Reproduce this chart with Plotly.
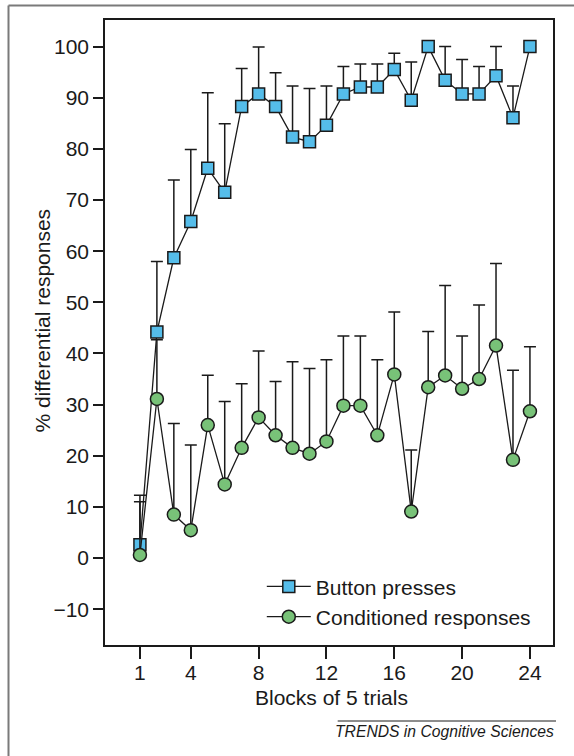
import plotly.graph_objects as go

# ---- data ----
blocks = list(range(1, 25))
button_presses = [2.6, 44.2, 58.7, 65.8, 76.2, 71.5, 88.3, 90.75, 88.3, 82.3, 81.4, 84.6,
                  90.75, 92.1, 92.1, 95.5, 89.5, 100, 93.4, 90.75, 90.75, 94.3, 86.1, 100]
button_upper = [12.3, 58.0, 73.9, 79.9, 91.0, 84.9, 95.7, 99.9, 94.9, 92.3, 91.8, 92.3,
                96.1, 96.6, 96.6, 98.7, 97.0, 100, 100, 97.5, 96.1, 100, 92.3, 100]
conditioned = [0.6, 31.1, 8.5, 5.45, 26.0, 14.4, 21.55, 27.5, 24.0, 21.55, 20.4, 22.8,
               29.8, 29.8, 24.0, 35.9, 9.1, 33.4, 35.7, 33.1, 35.0, 41.55, 19.2, 28.7]
conditioned_upper = [11.0, 42.7, 26.3, 22.1, 35.75, 30.6, 34.1, 40.5, 34.5, 38.4, 37.05, 38.75,
                     43.4, 43.4, 38.75, 48.1, 21.15, 44.3, 53.3, 43.4, 49.5, 57.6, 36.7, 41.3]
x_ticks = [1, 4, 8, 12, 16, 20, 24]
y_ticks = [-10, 0, 10, 20, 30, 40, 50, 60, 70, 80, 90, 100]

button_err = [max(u - v, 0) for u, v in zip(button_upper, button_presses)]
cond_err = [max(u - v, 0) for u, v in zip(conditioned_upper, conditioned)]

FONT = "Liberation Sans, Arial, Helvetica, sans-serif"
INK = "#1a1a1a"
FS = 21

fig = go.Figure()

fig.add_trace(go.Scatter(
    x=blocks, y=button_presses, name="Button presses",
    mode="lines+markers",
    line=dict(color=INK, width=1.3),
    marker=dict(symbol="square", size=12, color="#55BDEA",
                line=dict(color=INK, width=1.5)),
    error_y=dict(type="data", symmetric=False, array=button_err,
                 arrayminus=[0] * len(blocks), color=INK, thickness=1.5, width=6),
))
fig.add_trace(go.Scatter(
    x=blocks, y=conditioned, name="Conditioned responses",
    mode="lines+markers",
    line=dict(color=INK, width=1.3),
    marker=dict(symbol="circle", size=13, color="#78C278",
                line=dict(color=INK, width=1.5)),
    error_y=dict(type="data", symmetric=False, array=cond_err,
                 arrayminus=[0] * len(blocks), color=INK, thickness=1.5, width=6),
))

fig.update_layout(
    width=574, height=756, autosize=False,
    margin=dict(l=105, r=21, t=20, b=111, pad=0),
    paper_bgcolor="white", plot_bgcolor="white",
    font=dict(family=FONT, size=FS, color=INK),
    showlegend=True,
    legend=dict(x=0.35, y=0.126, xanchor="left", yanchor="top",
                bgcolor="rgba(0,0,0,0)", borderwidth=0,
                font=dict(size=FS, color=INK), itemwidth=44,
                tracegroupgap=0),
    xaxis=dict(range=[-1.06, 25.36], tickmode="array", tickvals=x_ticks,
               ticks="outside", ticklen=12, tickwidth=1.5, tickcolor=INK,
               ticklabelstandoff=-4,
               showline=True, linecolor=INK, linewidth=1.5, mirror=True,
               showgrid=False, zeroline=False,
               tickfont=dict(size=FS, color=INK)),
    yaxis=dict(range=[-17, 105.2], tickmode="array", tickvals=y_ticks,
               ticktext=["\u221210" if v < 0 else str(v) for v in y_ticks],
               ticks="outside", ticklen=10, tickwidth=1.5, tickcolor=INK,
               showline=True, linecolor=INK, linewidth=1.5, mirror=True,
               showgrid=False, zeroline=False,
               tickfont=dict(size=FS, color=INK)),
    annotations=[
        dict(text="% differential responses", xref="paper", yref="paper",
             x=-0.1384, y=0.519, textangle=-90, showarrow=False,
             xanchor="center", yanchor="middle", font=dict(size=FS, color=INK)),
        dict(text="Blocks of 5 trials", xref="paper", yref="paper",
             x=0.5056, y=-0.0832, showarrow=False,
             xanchor="center", yanchor="middle", font=dict(size=FS, color=INK)),
        dict(text="<i>TRENDS in Cognitive Sciences</i>", xref="paper", yref="paper",
             x=1.0067, y=-0.1387, showarrow=False,
             xanchor="right", yanchor="middle", font=dict(size=15.7, color=INK)),
    ],
    shapes=[
        # outer frame (left and top edges)
        dict(type="line", xref="paper", yref="paper", x0=-0.2154, x1=-0.2154,
             y0=1.0232, y1=-0.2, line=dict(color="#7a7a7a", width=2)),
        dict(type="line", xref="paper", yref="paper", x0=-0.2154, x1=1.06,
             y0=1.0232, y1=1.0232, line=dict(color="#7a7a7a", width=2)),
        # footer rule
        dict(type="line", xref="paper", yref="paper", x0=0.5194, x1=1.0067,
             y0=-0.1216, y1=-0.1216, line=dict(color=INK, width=1)),
    ],
)

fig.write_html("out.html")
